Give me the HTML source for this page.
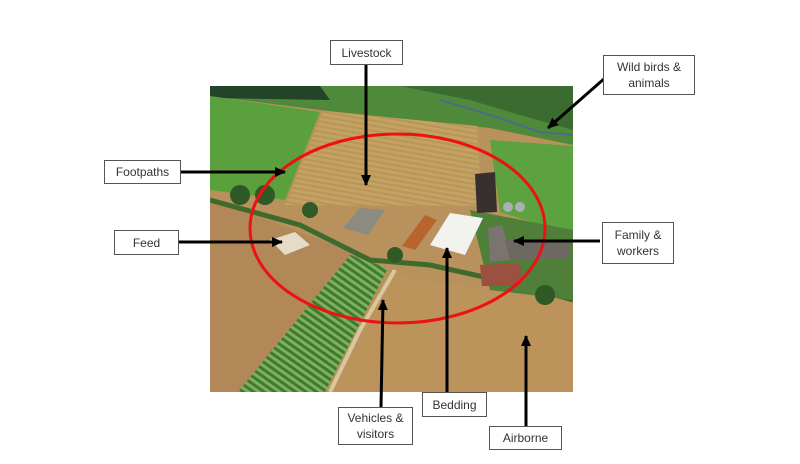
<!DOCTYPE html>
<html><head><meta charset="utf-8"><style>
html,body{margin:0;padding:0;background:#fff;}
body{width:800px;height:464px;position:relative;overflow:hidden;font-family:"Liberation Sans",sans-serif;}
.b{position:absolute;border:1px solid #555;background:#fff;box-sizing:border-box;font-size:12px;color:#333;display:flex;align-items:center;justify-content:center;text-align:center;line-height:16px;}
svg{position:absolute;left:0;top:0;}
</style></head><body>
<svg width="800" height="464" viewBox="0 0 800 464">
<defs>
<pattern id="st" width="6" height="6" patternUnits="userSpaceOnUse" patternTransform="rotate(-55)">
<rect width="6" height="6" fill="#3f7a2e"/><rect width="3" height="6" fill="#7fb060"/></pattern>
<pattern id="wh" width="5" height="5" patternUnits="userSpaceOnUse" patternTransform="rotate(-80)">
<rect width="5" height="5" fill="#c4a262"/><rect width="2" height="5" fill="#b8955a"/></pattern>
<clipPath id="ph"><rect x="210" y="86" width="363" height="306"/></clipPath>
<marker id="ah" markerWidth="11" markerHeight="10" refX="10" refY="5" orient="auto" markerUnits="userSpaceOnUse"><path d="M0,0 L11,5 L0,10 z" fill="#000"/></marker>
</defs>
<g clip-path="url(#ph)">
<rect x="210" y="86" width="363" height="306" fill="#b8915c"/>
<polygon points="210,86 573,86 573,145 490,128 320,110 210,96" fill="#4f8a3a"/>
<polygon points="210,86 320,86 330,100 210,98" fill="#24442a"/>
<polygon points="400,86 573,86 573,130 520,115 470,100" fill="#3b6b30"/>
<polyline points="440,100 500,118 540,132 573,135" fill="none" stroke="#4c6c88" stroke-width="2"/>
<polygon points="210,96 320,112 285,200 210,190" fill="#5aa13e"/>
<polygon points="323,111 477,126 482,206 285,205" fill="url(#wh)"/>
<polygon points="490,140 573,146 573,235 500,212" fill="#5ca23e"/>
<polygon points="210,198 360,255 300,340 250,392 210,392" fill="#b28858"/>
<polygon points="350,255 388,268 325,392 238,392" fill="url(#st)"/>
<polygon points="388,275 573,302 573,392 330,392" fill="#bc935b"/>
<polyline points="210,200 300,225 370,260 430,265 520,285 573,300" fill="none" stroke="#3e6a2e" stroke-width="5"/>
<polyline points="395,270 360,330 330,392" fill="none" stroke="#d8c8a0" stroke-width="4"/>
<polygon points="470,210 573,230 573,300 490,290" fill="#4f7f38"/>
<polygon points="343,228 360,208 385,210 368,235" fill="#8d8a82"/>
<polygon points="402,246 425,215 437,220 415,250" fill="#b8642e"/>
<polygon points="430,245 450,213 483,218 465,255" fill="#f2f2ee"/>
<polygon points="475,174 495,172 497,212 477,213" fill="#38302e"/>
<circle cx="508" cy="207" r="5" fill="#aab0b5"/><circle cx="520" cy="207" r="5" fill="#aab0b5"/>
<polygon points="488,228 502,225 512,260 490,262" fill="#7a7470"/>
<polygon points="480,265 520,263 522,285 482,286" fill="#9c5040"/>
<polygon points="505,240 570,240 570,258 510,260" fill="#6e6862"/>
<polygon points="270,240 295,232 310,245 285,255" fill="#e5dcc8"/>
<circle cx="265" cy="195" r="10" fill="#2f5a25"/><circle cx="240" cy="195" r="10" fill="#2f5a25"/>
<circle cx="310" cy="210" r="8" fill="#2f5a25"/><circle cx="395" cy="255" r="8" fill="#2f5a25"/>
<circle cx="545" cy="295" r="10" fill="#2f5a25"/>
</g>
<ellipse cx="397.5" cy="228.5" rx="147.5" ry="94.5" fill="none" stroke="#ee1111" stroke-width="3"/>
<g stroke="#000" stroke-width="3" marker-end="url(#ah)">
<line x1="366" y1="65" x2="366" y2="185"/>
<line x1="605" y1="78" x2="548" y2="128"/>
<line x1="180" y1="172" x2="285" y2="172"/>
<line x1="178" y1="242" x2="282" y2="242"/>
<line x1="600" y1="241" x2="514" y2="241"/>
<line x1="381" y1="407" x2="383" y2="300"/>
<line x1="447" y1="393" x2="447" y2="248"/>
<line x1="526" y1="426" x2="526" y2="336"/>
</g>
</svg>
<div class="b" style="left:330px;top:40px;width:73px;height:25px;">Livestock</div>
<div class="b" style="left:603px;top:55px;width:92px;height:40px;">Wild birds &amp;<br>animals</div>
<div class="b" style="left:104px;top:160px;width:77px;height:24px;">Footpaths</div>
<div class="b" style="left:114px;top:230px;width:65px;height:25px;">Feed</div>
<div class="b" style="left:602px;top:222px;width:72px;height:42px;">Family &amp;<br>workers</div>
<div class="b" style="left:338px;top:407px;width:75px;height:38px;">Vehicles &amp;<br>visitors</div>
<div class="b" style="left:422px;top:392px;width:65px;height:25px;">Bedding</div>
<div class="b" style="left:489px;top:426px;width:73px;height:24px;">Airborne</div>
</body></html>
